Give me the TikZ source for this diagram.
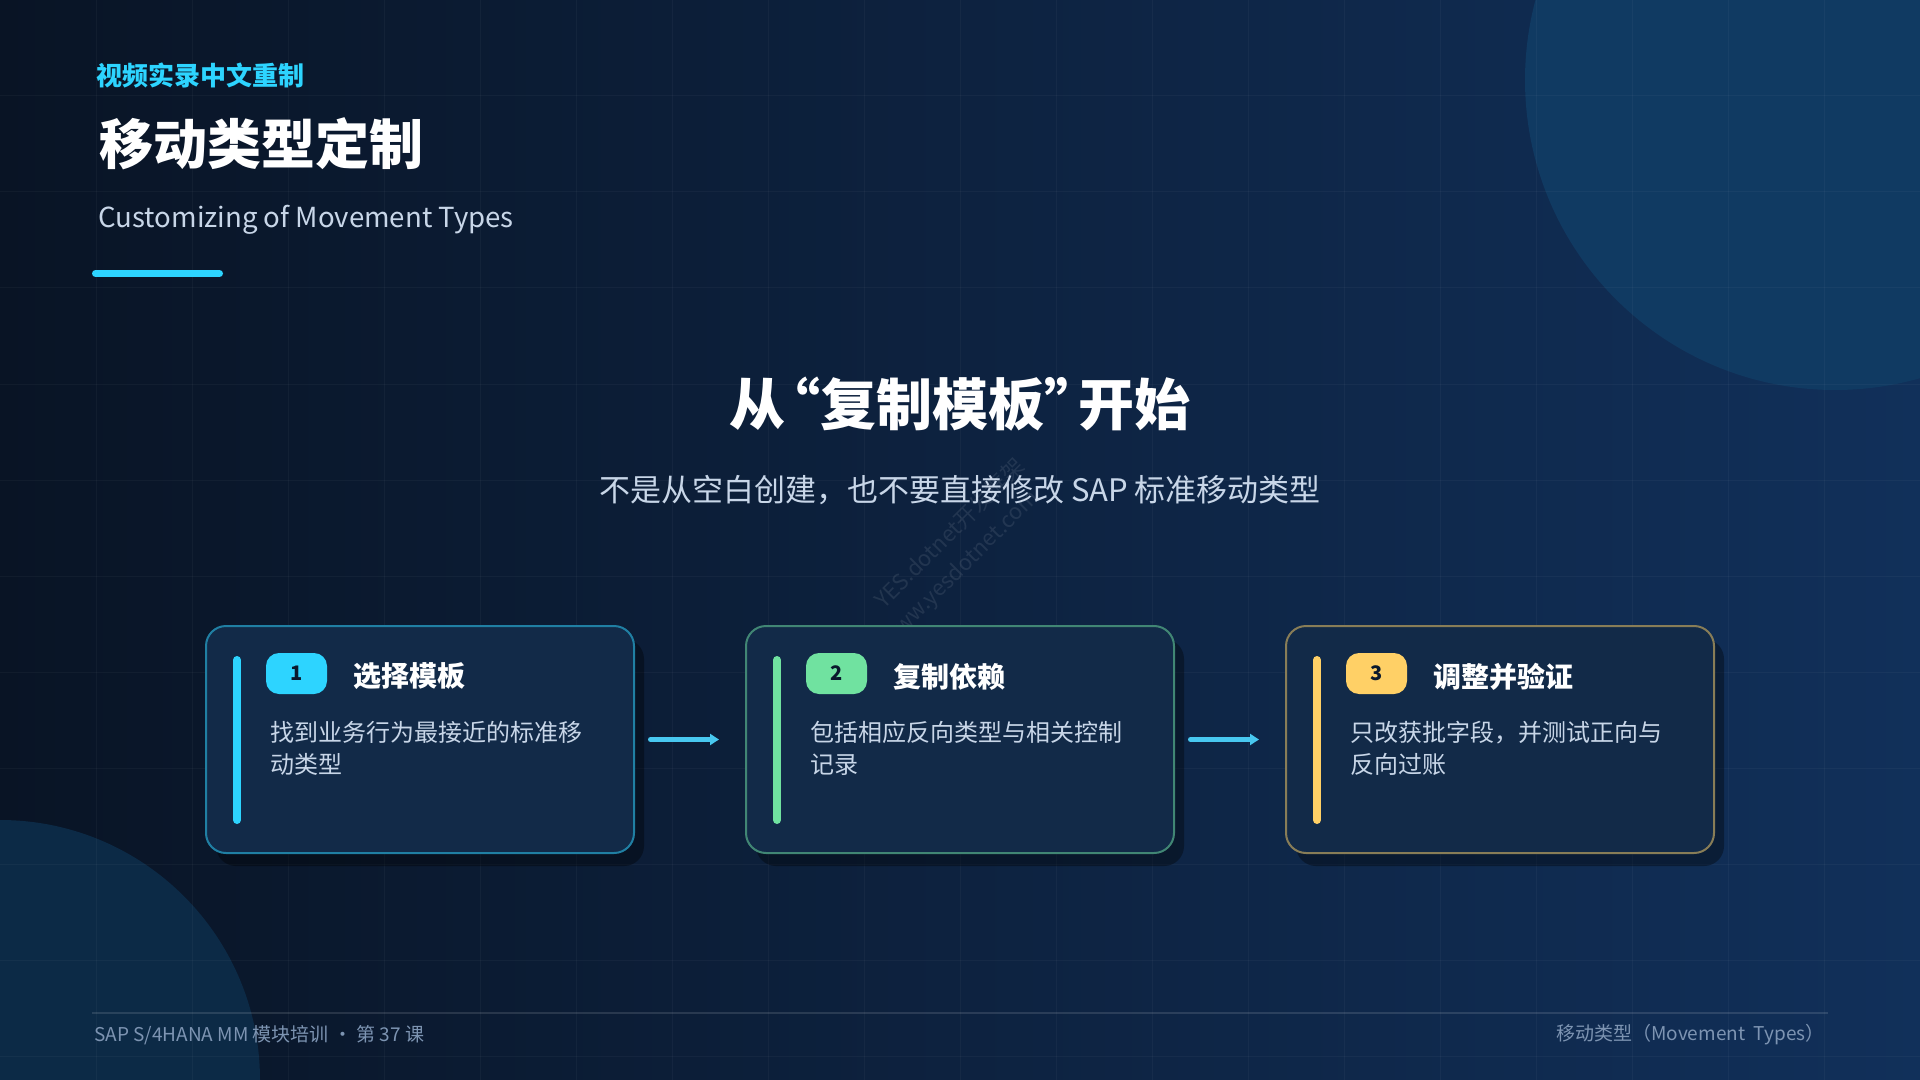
\documentclass[tikz,border=0pt]{standalone}
\usepackage{fontspec}
\setmainfont{Noto Sans CJK SC}
\usepackage{xcolor}
\usepackage{tikz}
\usetikzlibrary{arrows.meta, positioning, shadows, calc}
\definecolor{bgdark}{RGB}{9,20,37}
\definecolor{bglight}{RGB}{17,48,90}
\definecolor{circtop}{RGB}{16,58,98}
\definecolor{circbot}{RGB}{12,42,70}
\definecolor{cardfill}{RGB}{18,42,72}
\definecolor{stepcyan}{RGB}{45,212,255}
\definecolor{stepgreen}{RGB}{112,226,160}
\definecolor{stepyellow}{RGB}{255,208,102}
\definecolor{flowcyan}{RGB}{72,200,240}
\definecolor{softtext}{RGB}{200,214,232}
\definecolor{foottext}{RGB}{125,148,178}
\definecolor{badgetext}{RGB}{10,25,45}
\tikzset{
    card/.style={rectangle, rounded corners=10pt, draw=#1!50!cardfill, line width=1pt,
                 fill=cardfill, minimum width=214pt, minimum height=113.5pt,
                 general shadow={fill=black, opacity=0.35, shadow xshift=5pt, shadow yshift=-6.5pt}},
    badge/.style={rectangle, rounded corners=6.5pt, fill=#1, minimum width=30.5pt,
                  minimum height=20.5pt, inner sep=0pt,
                  font=\fontsize{10}{12}\selectfont\bfseries, text=badgetext},
    steptitle/.style={inner sep=0pt, font=\fontsize{14}{17}\selectfont\bfseries, text=white},
    stepdesc/.style={inner sep=0pt, align=left, anchor=north west,
                     font=\fontsize{12}{16}\selectfont, text=softtext},
    accentbar/.style={line width=4pt, line cap=round, draw=#1},
    flowarrow/.style={-{Triangle[length=4.5pt, width=5.5pt]}, line width=2.5pt,
                      line cap=round, draw=flowcyan},
    gridline/.style={draw=white, opacity=0.035, line width=0.5pt},
    foot/.style={inner sep=0pt, font=\fontsize{9.5}{12}\selectfont, text=foottext},
    watermark/.style={inner sep=0pt, rotate=45, font=\fontsize{11}{13}\selectfont,
                      text=white, text opacity=0.09},
}

\begin{document}
\begin{tikzpicture}[x=0.5pt, y=-0.5pt]
    \useasboundingbox (0,0) rectangle (1920,1080);
    \clip (0,0) rectangle (1920,1080);

    % Background
    \shade[left color=bgdark, right color=bglight] (0,0) rectangle (1920,1080);
    \fill[circtop] (1835,80) circle (310);
    \fill[circbot] (0,1080) circle (260);
    \foreach \gx in {96,192,...,1824}
        \draw[gridline] (\gx,0) -- (\gx,1080);
    \foreach \gy in {96,192,...,1056}
        \draw[gridline] (0,\gy) -- (1920,\gy);

    % Header
    \node[anchor=west, inner sep=0pt, font=\fontsize{13}{16}\selectfont\bfseries,
          text=stepcyan] (tag) at (96,75) {视频实录中文重制};
    \node[anchor=west, inner sep=0pt, font=\fontsize{27}{32}\selectfont\bfseries,
          text=white] (title) at (99,144) {移动类型定制};
    \node[anchor=base west, inner sep=0pt, font=\fontsize{13.8}{17}\selectfont,
          text=softtext] (entitle) at (98,228) {Customizing of Movement Types};
    \draw[line width=3.5pt, line cap=round, stepcyan] (95.5,273.5) -- (219.5,273.5);

    % Heading
    \node[inner sep=0pt, font=\fontsize{28}{34}\selectfont\bfseries, text=white]
        (heading) at (960,404) {从\kern-0.38em“复制模板”\kern-0.38em开始};
    \node[inner sep=0pt, font=\fontsize{15.5}{19}\selectfont, text=softtext]
        (lead) at (960,490) {不是从空白创建，也不要直接修改 SAP 标准移动类型};

    % Watermark
    \node[watermark] (wm1) at (949,533) {YES.dotnet开发框架};
    \node[watermark] (wm2) at (961,569) {www.yesdotnet.com};

    % Cards
    \node[card=stepcyan] (card1) at (420,739.5) {};
    \node[card=stepgreen, right=55pt of card1] (card2) {};
    \node[card=stepyellow, right=55pt of card2] (card3) {};

    % Step 1
    \draw[accentbar=stepcyan] ([shift={(16pt,-17.5pt)}]card1.north west) -- ([shift={(16pt,17pt)}]card1.south west);
    \node[badge=stepcyan] (b1) at ([shift={(45.75pt,-24.25pt)}]card1.north west) {1};
    \node[steptitle, right=13pt of b1, yshift=-1.5pt] (t1) {选择模板};
    \node[stepdesc] (d1) at ([shift={(32.5pt,-48pt)}]card1.north west) {找到业务行为最接近的标准移\\动类型};

    % Step 2
    \draw[accentbar=stepgreen] ([shift={(16pt,-17.5pt)}]card2.north west) -- ([shift={(16pt,17pt)}]card2.south west);
    \node[badge=stepgreen] (b2) at ([shift={(45.75pt,-24.25pt)}]card2.north west) {2};
    \node[steptitle, right=13pt of b2, yshift=-1.5pt] (t2) {复制依赖};
    \node[stepdesc] (d2) at ([shift={(32.5pt,-48pt)}]card2.north west) {包括相应反向类型与相关控制\\记录};

    % Step 3
    \draw[accentbar=stepyellow] ([shift={(16pt,-17.5pt)}]card3.north west) -- ([shift={(16pt,17pt)}]card3.south west);
    \node[badge=stepyellow] (b3) at ([shift={(45.75pt,-24.25pt)}]card3.north west) {3};
    \node[steptitle, right=13pt of b3, yshift=-1.5pt] (t3) {调整并验证};
    \node[stepdesc] (d3) at ([shift={(32.5pt,-48pt)}]card3.north west) {只改获批字段，并测试正向与\\反向过账};

    % Arrows
    \draw[flowarrow] ([xshift=7.75pt]card1.east) -- ([xshift=-13pt]card2.west);
    \draw[flowarrow] ([xshift=7.75pt]card2.east) -- ([xshift=-13pt]card3.west);

    % Footer
    \draw[line width=1pt, draw=white, opacity=0.12] (92,1013) -- (1828,1013);
    \node[foot, anchor=west] (footl) at (94,1035) {SAP S/4HANA MM 模块培训 · 第 37 课};
    \node[foot, anchor=east] (footr) at (1825,1035) {移动类型（Movement\ \ Types）};
\end{tikzpicture}
\end{document}
